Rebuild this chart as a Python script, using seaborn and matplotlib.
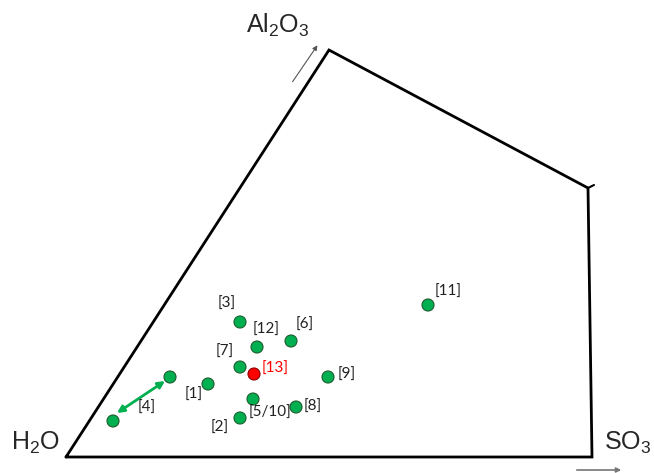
import pandas as pd
import seaborn as sns
import matplotlib.pyplot as plt

# diagram corners (drawing coordinates, y grows downwards)
corner_x = [66, 329, 588, 592, 66]
corner_y = [457, 50, 188, 457, 457]

# literature points
ref_labels = ['[1]', '[2]', '[3]', '[4]', '[4]', '[5/10]', '[6]', '[7]', '[8]', '[9]', '[11]', '[12]', '[13]']
ref_x = [208, 240, 240, 170, 113, 253, 291, 240, 296, 328, 428, 257, 254]
ref_y = [384, 418, 322, 377, 421, 399, 341, 367, 407, 377, 305, 347, 374]
ref_kind = ['lit'] * 12 + ['this']

# where each label sits
lab_text = ['[1]', '[2]', '[3]', '[4]', '[5/10]', '[6]', '[7]', '[8]', '[9]', '[11]', '[12]', '[13]']
lab_x = [194, 220, 227, 147, 270, 305, 225, 313, 347, 448, 266, 275]
lab_y = [395, 428, 304, 408, 413, 325, 352, 407, 375, 292, 330, 369]

df = pd.DataFrame({'x': ref_x, 'y': ref_y, 'kind': ref_kind})

sns.set_style('white')
plt.rcParams['font.family'] = ['Liberation Sans', 'DejaVu Sans']
plt.rcParams['mathtext.fontset'] = 'custom'
plt.rcParams['mathtext.rm'] = 'Liberation Sans'
plt.rcParams['mathtext.it'] = 'Liberation Sans'

fig = plt.figure(figsize=(6.54, 4.73), dpi=100)
ax = fig.add_axes([0, 0, 1, 1])
ax.set_xlim(0, 654)
ax.set_ylim(473, 0)
ax.axis('off')

# outline
ax.plot(corner_x, corner_y, color='black', lw=2, solid_joinstyle='miter')
ax.plot([588, 594], [188, 185], color='black', lw=1.5)

# double arrow between the two [4] points
ax.annotate('', xy=(117, 413), xytext=(165, 381),
            arrowprops=dict(arrowstyle='<|-|>', color='#00B050', lw=2,
                            mutation_scale=10, shrinkA=0, shrinkB=0))

sns.scatterplot(data=df, x='x', y='y', hue='kind',
                palette={'lit': '#00B050', 'this': '#FF0000'},
                s=75, edgecolor='#1f5b2e', linewidth=0.8, legend=False, ax=ax, zorder=3)
ax.collections[-1].set_edgecolors(['#1f5b2e'] * 12 + ['#8b0000'])

for t, x, y in zip(lab_text, lab_x, lab_y):
    ax.text(x, y, t, fontsize=11, family=['Lato', 'DejaVu Sans'],
            color='#FF0000' if t == '[13]' else '#222222',
            ha='center', va='center')

# component labels
ax.text(278, 25, r'Al$_\mathregular{2}$O$_\mathregular{3}$', fontsize=18, ha='center', va='center')
ax.text(35, 443, r'H$_\mathregular{2}$O', fontsize=18, ha='center', va='center')
ax.text(628, 443, r'SO$_\mathregular{3}$', fontsize=18, ha='center', va='center')

ax.annotate('', xy=(319, 43), xytext=(291, 84),
            arrowprops=dict(arrowstyle='-|>', color='#555555', lw=0.8, mutation_scale=7))
ax.annotate('', xy=(624, 470), xytext=(574, 470),
            arrowprops=dict(arrowstyle='-|>', color='#777777', lw=1.2, mutation_scale=7))

plt.savefig('out.png', dpi=100)
plt.close()
